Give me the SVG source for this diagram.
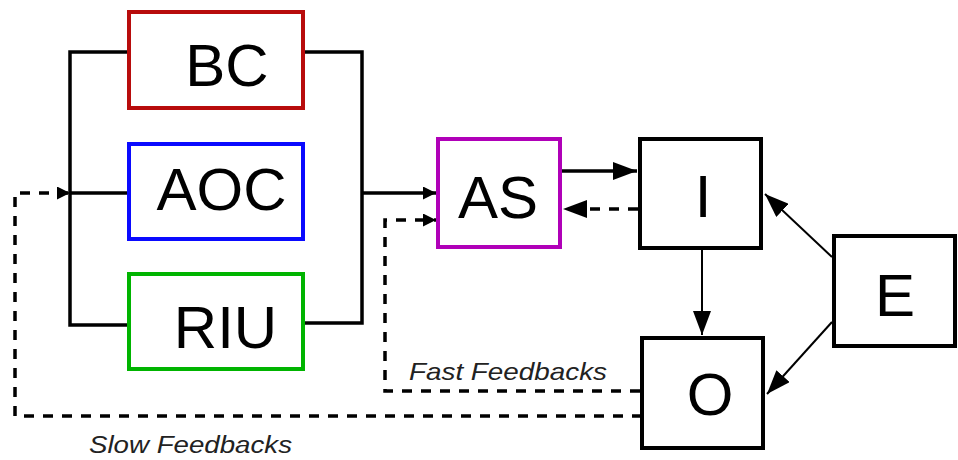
<svg xmlns="http://www.w3.org/2000/svg" width="958" height="460" viewBox="0 0 958 460">
<defs>
<style>
.box{fill:#fff;stroke-width:4}
.k{stroke:#000}
.lbl{font-family:"Liberation Sans",Arial,sans-serif;font-size:60px;fill:#000;text-anchor:middle}
.fb{font-family:"Liberation Sans",Arial,sans-serif;font-style:italic;fill:#222}
.ln{fill:none;stroke:#000;stroke-width:3.5}
.thin{fill:none;stroke:#000;stroke-width:2}
.dash{fill:none;stroke:#000;stroke-width:3.5;stroke-dasharray:10 9}
</style>
<marker id="sm" markerUnits="userSpaceOnUse" markerWidth="13" markerHeight="13" refX="13" refY="6.5" orient="auto" viewBox="0 0 13 13">
<path d="M0,0 L13,6.5 L0,13 z" fill="#000"/>
</marker>
<marker id="bg" markerUnits="userSpaceOnUse" markerWidth="24" markerHeight="18" refX="24" refY="9" orient="auto" viewBox="0 0 24 18">
<path d="M0,0 L24,9 L0,18 z" fill="#000"/>
</marker>
</defs>
<rect width="958" height="460" fill="#fff"/>
<g id="connectors">
<path class="ln" d="M127,52 H70 V325 H127"/>
<path class="ln" d="M70,193 H127"/>
<path class="ln" d="M305,52 H362 V323 H302"/>
<path class="ln" d="M362,193 H436" marker-end="url(#sm)"/>
<path class="dash" d="M640,391 H385 V220 H436" marker-end="url(#sm)"/>
<path class="dash" d="M642,416 H15 V193 H70" marker-end="url(#sm)"/>
<path class="ln" d="M562,171 H637" marker-end="url(#bg)"/>
<path class="dash" d="M638,209 H563" marker-end="url(#bg)"/>
<path class="thin" d="M702,250 V335" marker-end="url(#bg)"/>
<path class="thin" d="M832,257 L765,194" marker-end="url(#bg)"/>
<path class="thin" d="M832,322 L767,394" marker-end="url(#bg)"/>
<text class="fb" x="409" y="380" font-size="24" textLength="198" lengthAdjust="spacingAndGlyphs">Fast Feedbacks</text>
<text class="fb" x="89" y="453" font-size="23" textLength="203" lengthAdjust="spacingAndGlyphs">Slow Feedbacks</text>
</g>
<g id="BC">
<rect class="box" x="129" y="12" width="174" height="96" stroke="#b80c0c"/>
<text class="lbl" x="227" y="86">BC</text>
</g>
<g id="AOC">
<rect class="box" x="129" y="144" width="174" height="95" stroke="#0a0aff"/>
<text class="lbl" x="221.5" y="210">AOC</text>
</g>
<g id="RIU">
<rect class="box" x="129" y="274" width="174" height="95" stroke="#00b400"/>
<text class="lbl" x="225.5" y="348">RIU</text>
</g>
<g id="AS">
<rect class="box" x="438" y="139" width="122" height="108" stroke="#b000b8"/>
<text class="lbl" x="498" y="218">AS</text>
</g>
<g id="I">
<rect class="box k" x="640" y="139" width="121" height="109"/>
<text class="lbl" x="703" y="217">I</text>
</g>
<g id="O">
<rect class="box k" x="642" y="338" width="121" height="110"/>
<text class="lbl" x="710" y="415">O</text>
</g>
<g id="E">
<rect class="box k" x="834" y="236" width="121" height="110"/>
<text class="lbl" x="895" y="316">E</text>
</g>
</svg>
